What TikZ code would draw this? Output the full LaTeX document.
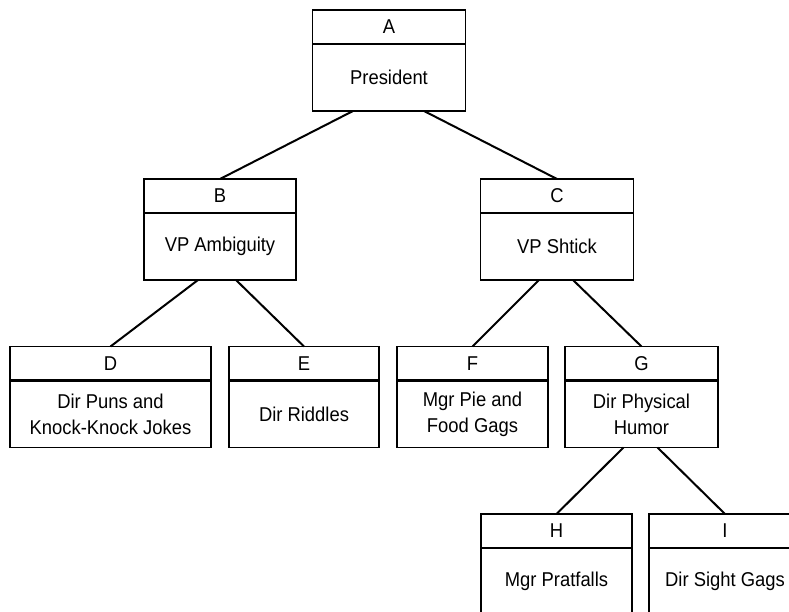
\documentclass[tikz,border=0pt]{standalone}
\usepackage{fontspec}
\setmainfont[FakeStretch=0.92]{Liberation Sans}
\usetikzlibrary{positioning}

\tikzset{
  head/.style={draw, line width=1.5pt, minimum height=34pt, inner sep=0pt, outer sep=0pt,
    font=\fontsize{20}{26}\selectfont},
  body/.style={draw, line width=1.5pt, minimum height=67pt, inner sep=0pt, outer sep=0pt,
    align=center, font=\fontsize{20}{26}\selectfont},
  divider/.style={line width=2.6pt},
  link/.style={line width=2pt},
}

\begin{document}
\begin{tikzpicture}[x=1pt,y=-1pt]
    \clip (0,0) rectangle (789,612);
    % Top level
    \node[head, minimum width=153pt] (A) at (389,27) {A};
    \node[body, minimum width=153pt, below=0pt of A] (a) {President};
    % Vice presidents
    \node[head, minimum width=152pt] (B) at (220,196) {B};
    \node[body, minimum width=152pt, below=0pt of B] (b) {VP Ambiguity};
    \node[head, minimum width=153pt] (C) at (557,196) {C};
    \node[body, minimum width=153pt, below=0pt of C] (c) {VP Shtick};
    % Third row
    \node[head, minimum width=201pt] (D) at (110.5,363.5) {D};
    \node[body, minimum width=201pt, below=0pt of D] (d) {Dir Puns and\\Knock-Knock Jokes};
    \node[head, minimum width=150pt] (E) at (304,363.5) {E};
    \node[body, minimum width=150pt, below=0pt of E] (e) {Dir Riddles};
    \node[head, minimum width=151pt] (F) at (472.5,363.5) {F};
    \node[body, minimum width=151pt, below=0pt of F] (f) {Mgr Pie and\\Food Gags};
    \node[head, minimum width=153pt] (G) at (641.5,363.5) {G};
    \node[body, minimum width=153pt, below=0pt of G] (g) {Dir Physical\\Humor};
    % Bottom row
    \node[head, minimum width=151pt] (H) at (556.5,531) {H};
    \node[body, minimum width=151pt, below=0pt of H] (h) {Mgr Pratfalls};
    \node[head, minimum width=152pt] (I) at (725,531) {I};
    \node[body, minimum width=152pt, below=0pt of I] (i) {Dir Sight Gags};
    % Dividers under the letters
    \foreach \n in {A,B,C,D,E,F,G,H,I} {
      \draw[divider] (\n.south west) -- (\n.south east);
    }
    % Connectors
    \draw[link] ([xshift=-36pt]a.south) -- (B.north);
    \draw[link] ([xshift=35pt]a.south) -- (C.north);
    \draw[link] ([xshift=-22pt]b.south) -- (D.north);
    \draw[link] ([xshift=16pt]b.south) -- (E.north);
    \draw[link] ([xshift=-18pt]c.south) -- (F.north);
    \draw[link] ([xshift=16pt]c.south) -- (G.north);
    \draw[link] ([xshift=-18pt]g.south) -- (H.north);
    \draw[link] ([xshift=16pt]g.south) -- (I.north);
\end{tikzpicture}
\end{document}
